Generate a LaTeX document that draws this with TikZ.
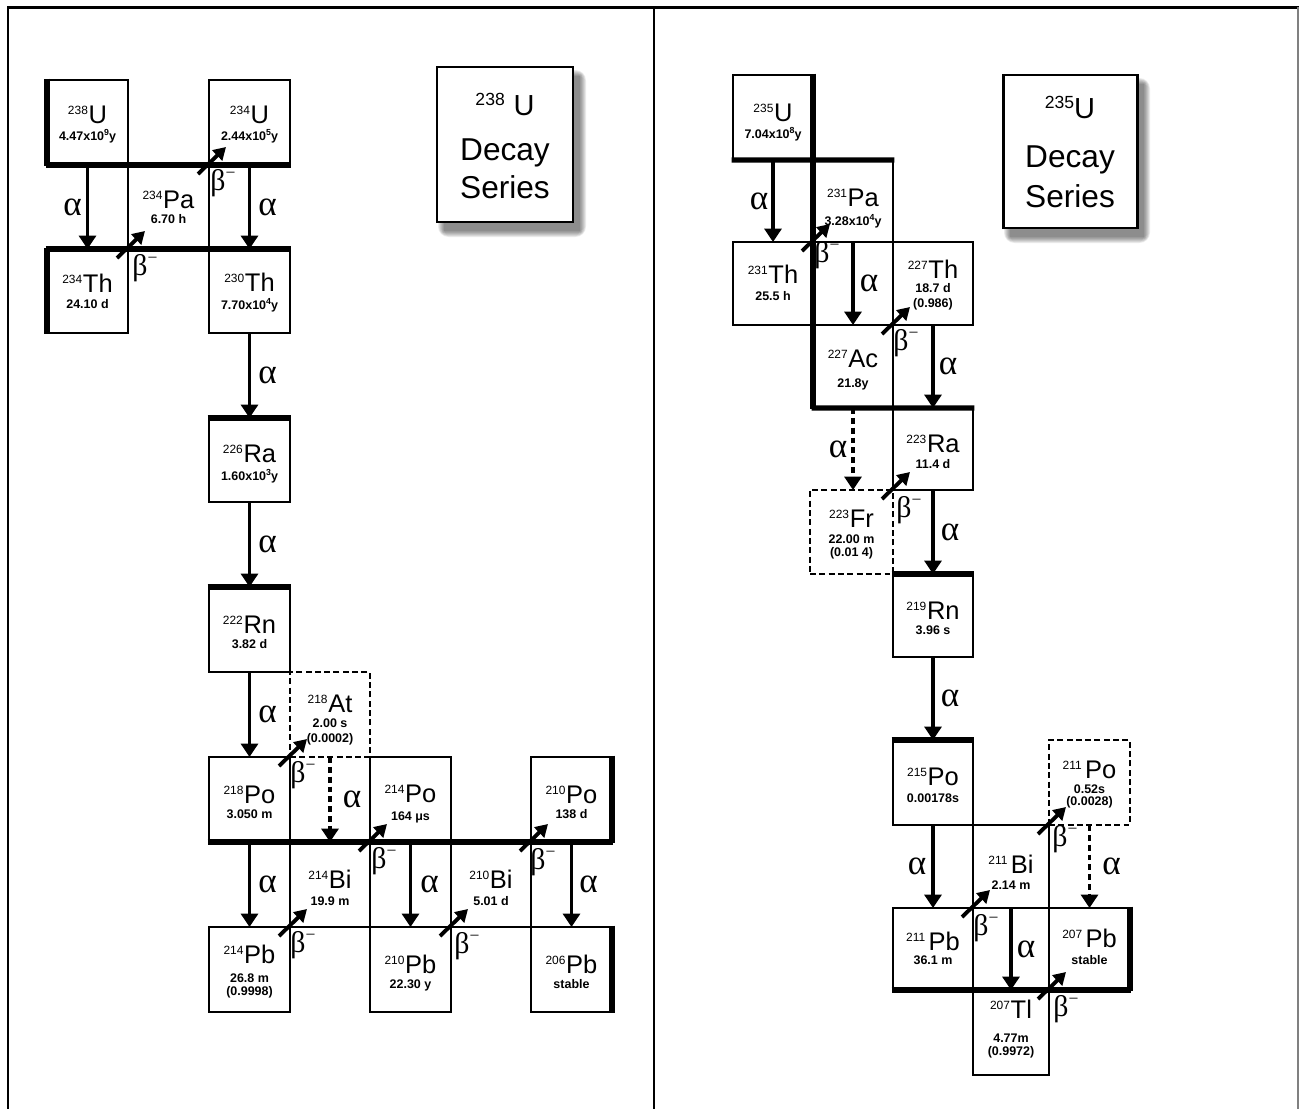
\documentclass[tikz,border=0pt]{standalone}
\usepackage{fontspec}
\setmainfont{Liberation Sans}
\newfontfamily\greekfont{Liberation Serif}
\usetikzlibrary{arrows.meta}

% mass number, element symbol, power of ten, beta-minus
\newcommand\massno[1]{{\fontsize{6.8}{6.8}\selectfont\raisebox{5.1pt}{#1}}\kern0.4pt}
\newcommand\elsym[1]{{\fontsize{14.5}{14.5}\selectfont #1}}
\newcommand\pw[1]{\raisebox{2.8pt}{\fontsize{5}{5}\selectfont #1}}
\newcommand\betam{β\raisebox{0.40em}{\fontsize{10}{10}\selectfont −}}

% a nuclide cell given by its pixel corners
\newcommand\nucbox[6][nbox]{\node[#1, minimum width={(#5-#3)*0.02cm}, minimum height={(#6-#4)*0.02cm}] (#2) at ({(#3+#5)/2},{(#4+#6)/2}) {};}
% symbol line and half-life lines, placed by baseline below the cell top
\newcommand\nucsym[4]{\node[symtxt] (#1s) at ([shift={(0,#2)}]#1.north) {\massno{#3}\elsym{#4}};}
\newcommand\nuctxt[4]{\node[hltxt] (#1#2) at ([shift={(0,#3)}]#1.north) {#4};}

\begin{document}
\begin{tikzpicture}[x=0.02cm,y=-0.02cm,
  nbox/.style={draw, line width=1.6pt, rectangle, inner sep=0pt, outer sep=0pt},
  dbox/.style={nbox, line width=1.3pt, dash pattern=on 3.4pt off 1.9pt},
  heavy/.style={line width=2.9pt, line cap=butt, shorten <=-0.8pt, shorten >=-0.8pt},
  aarr/.style={line width=2.2pt, -{Triangle[width=9.6pt,length=7.6pt]}},
  darr/.style={aarr, dash pattern=on 3.4pt off 2.2pt},
  barr/.style={line width=2.2pt, -{Triangle[width=8pt,length=7pt]}},
  alab/.style={font=\greekfont\fontsize{20}{20}\selectfont, inner sep=0pt},
  blab/.style={font=\greekfont\fontsize{17}{17}\selectfont, inner sep=0pt},
  symtxt/.style={anchor=base, inner sep=0pt},
  hltxt/.style={anchor=base, inner sep=0pt, font=\fontsize{7.1}{7.1}\selectfont\bfseries},
  titlebox/.style={draw, fill=white, line width=1.7pt, rectangle, inner sep=0pt, outer sep=0pt},
  titletxt/.style={anchor=base, inner sep=0pt, font=\fontsize{18}{18}\selectfont},
]
\useasboundingbox (0,0) rectangle (1299,1109);
\fill[white] (0,0) rectangle (1299,1109);

% page frame and divider
\draw[line width=1.4pt] (8,1109) -- (8,7.5);
\draw[line width=1.7pt] (7,7.5) -- (1299,7.5);
\draw[line width=1.6pt] (654,7) -- (654,1109);
\draw[gray, line width=0.7pt] (1298,7) -- (1298,1109);

% ---------------- uranium-238 series ----------------
\nucbox{U238}{47}{80}{128}{165}
\nucbox{U234}{209}{80}{290}{165}
\nucbox{Pa234}{128}{165}{209}{249}
\nucbox{Th234}{47}{249}{128}{333}
\nucbox{Th230}{209}{249}{290}{333}
\nucbox{Ra226}{209}{418}{290}{502}
\nucbox{Rn222}{209}{587}{290}{672}
\nucbox[dbox]{At218}{290}{672}{370}{757}
\nucbox{Po218}{209}{757}{290}{842}
\nucbox{Po214}{370}{757}{451}{842}
\nucbox{Po210}{531}{757}{612}{842}
\nucbox{Bi214}{290}{842}{370}{927}
\nucbox{Bi210}{451}{842}{531}{927}
\nucbox{Pb214}{209}{927}{290}{1012}
\nucbox{Pb210}{370}{927}{451}{1012}
\nucbox{Pb206}{531}{927}{612}{1012}

\draw[heavy] (U238.north west) -- (U238.south west);
\draw[heavy] (Th234.north west) -- (Th234.south west);
\draw[heavy] (U238.south west) -- (U234.south east);
\draw[heavy] (Th234.north west) -- (Th230.north east);
\draw[heavy] (Ra226.north west) -- (Ra226.north east);
\draw[heavy] (Rn222.north west) -- (Rn222.north east);
\draw[heavy] (Po218.south west) -- (Po210.south east);
\draw[heavy] (Po210.north east) -- (Po210.south east);
\draw[heavy] (Pb206.north east) -- (Pb206.south east);

\nucsym{U238}{43}{238}{U}    \nuctxt{U238}{a}{60}{4.47x10\pw{9}y}
\nucsym{U234}{43}{234}{U}    \nuctxt{U234}{a}{60}{2.44x10\pw{5}y}
\nucsym{Pa234}{43}{234}{Pa}  \nuctxt{Pa234}{a}{58}{6.70 h}
\nucsym{Th234}{43}{234}{Th}  \nuctxt{Th234}{a}{59}{24.10 d}
\nucsym{Th230}{42}{230}{Th}  \nuctxt{Th230}{a}{60}{7.70x10\pw{4}y}
\nucsym{Ra226}{44}{226}{Ra}  \nuctxt{Ra226}{a}{62}{1.60x10\pw{3}y}
\nucsym{Rn222}{46}{222}{Rn}  \nuctxt{Rn222}{a}{61}{3.82 d}
\nucsym{At218}{40}{218}{At}  \nuctxt{At218}{a}{55}{2.00 s}  \nuctxt{At218}{b}{70}{(0.0002)}
\nucsym{Po218}{46}{218}{Po}  \nuctxt{Po218}{a}{61}{3.050 m}
\nucsym{Po214}{45}{214}{Po}  \nuctxt{Po214}{a}{63}{164 μs}
\nucsym{Po210}{46}{210}{Po}  \nuctxt{Po210}{a}{61}{138 d}
\nucsym{Bi214}{46}{214}{Bi}  \nuctxt{Bi214}{a}{63}{19.9 m}
\nucsym{Bi210}{46}{210}{Bi}  \nuctxt{Bi210}{a}{63}{5.01 d}
\nucsym{Pb214}{36}{214}{Pb}  \nuctxt{Pb214}{a}{55}{26.8 m}  \nuctxt{Pb214}{b}{68}{(0.9998)}
\nucsym{Pb210}{46}{210}{Pb}  \nuctxt{Pb210}{a}{61}{22.30 y}
\nucsym{Pb206}{46}{206}{Pb}  \nuctxt{Pb206}{a}{61}{stable}

% alpha decays
\draw[aarr] (U238.south) -- (Th234.north) node[alab,midway,xshift=-0.30cm] (aU238) {α};
\draw[aarr] (U234.south) -- (Th230.north) node[alab,midway,xshift=0.36cm] (aU234) {α};
\draw[aarr] (Th230.south) -- (Ra226.north) node[alab,midway,xshift=0.36cm] (aTh230) {α};
\draw[aarr] (Ra226.south) -- (Rn222.north) node[alab,midway,xshift=0.36cm] (aRa226) {α};
\draw[aarr] (Rn222.south) -- (Po218.north) node[alab,midway,xshift=0.36cm] (aRn222) {α};
\draw[darr] (At218.south) -- (Bi214.north) node[alab,midway,xshift=0.44cm] (aAt218) {α};
\draw[aarr] (Po218.south) -- (Pb214.north) node[alab,midway,xshift=0.36cm] (aPo218) {α};
\draw[aarr] (Po214.south) -- (Pb210.north) node[alab,midway,xshift=0.38cm] (aPo214) {α};
\draw[aarr] (Po210.south) -- (Pb206.north) node[alab,midway,xshift=0.34cm] (aPo210) {α};

% beta decays
\draw[barr] ([shift={(-11,9)}]Th234.north east) -- ([shift={(17,-18)}]Pa234.south west);
\node[blab] (bTh234) at ([shift={(17,19)}]Th234.north east) {\betam};
\draw[barr] ([shift={(-11,9)}]Pa234.north east) -- ([shift={(17,-18)}]U234.south west);
\node[blab] (bPa234) at ([shift={(14,18)}]Pa234.north east) {\betam};
\draw[barr] ([shift={(-11,9)}]Po218.north east) -- ([shift={(17,-18)}]At218.south west);
\node[blab] (bPo218) at ([shift={(13,18)}]Po218.north east) {\betam};
\draw[barr] ([shift={(-11,9)}]Bi214.north east) -- ([shift={(17,-18)}]Po214.south west);
\node[blab] (bBi214) at ([shift={(14,19)}]Bi214.north east) {\betam};
\draw[barr] ([shift={(-11,9)}]Bi210.north east) -- ([shift={(17,-18)}]Po210.south west);
\node[blab] (bBi210) at ([shift={(12,20)}]Bi210.north east) {\betam};
\draw[barr] ([shift={(-11,9)}]Pb214.north east) -- ([shift={(17,-18)}]Bi214.south west);
\node[blab] (bPb214) at ([shift={(13,18)}]Pb214.north east) {\betam};
\draw[barr] ([shift={(-11,9)}]Pb210.north east) -- ([shift={(17,-18)}]Bi210.south west);
\node[blab] (bPb210) at ([shift={(16,19)}]Pb210.north east) {\betam};

% title
\foreach \d in {0,...,6}
  \fill[black, opacity=0.08, rounded corners=\d] ({437+7-\d},{67+9-\d}) rectangle ({573+7+\d},{222+9+\d});
\nucbox[titlebox]{T238}{437}{67}{573}{222}
\node[titletxt] (T238a) at ([shift={(0,48)}]T238.north) {{\fontsize{10}{10}\selectfont\raisebox{5.5pt}{238}} {\fontsize{16.5}{16.5}\selectfont U}};
\node[titletxt] (T238b) at ([shift={(0,93)}]T238.north) {Decay};
\node[titletxt] (T238c) at ([shift={(0,131)}]T238.north) {Series};

% ---------------- uranium-235 series ----------------
\nucbox{U235}{733}{75}{813}{160}
\nucbox{Pa231}{813}{160}{893}{242}
\nucbox{Th231}{733}{242}{813}{325}
\nucbox{Th227}{893}{242}{973}{325}
\nucbox{Ac227}{813}{325}{893}{408}
\nucbox{Ra223}{893}{408}{973}{490}
\nucbox[dbox]{Fr223}{810}{490}{893}{574}
\nucbox{Rn219}{893}{574}{973}{657}
\nucbox{Po215}{893}{740}{973}{825}
\nucbox[dbox]{Po211}{1049}{740}{1130}{825}
\nucbox{Bi211}{973}{825}{1049}{908}
\nucbox{Pb211}{893}{908}{973}{990}
\nucbox{Pb207}{1049}{908}{1130}{990}
\nucbox{Tl207}{973}{990}{1049}{1075}

\draw[heavy] (U235.north east) -- (Ac227.south west);
\draw[heavy] (U235.south west) -- (Pa231.north east);
\draw[heavy] (Ac227.south west) -- (Ra223.north east);
\draw[heavy] (Rn219.north west) -- (Rn219.north east);
\draw[heavy] (Po215.north west) -- (Po215.north east);
\draw[heavy] (Pb211.south west) -- (Pb207.south east);
\draw[heavy] (Pb207.north east) -- (Pb207.south east);

\nucsym{U235}{46}{235}{U}    \nuctxt{U235}{a}{63}{7.04x10\pw{8}y}
\nucsym{Pa231}{46}{231}{Pa}  \nuctxt{Pa231}{a}{65}{3.28x10\pw{4}y}
\nucsym{Th231}{41}{231}{Th}  \nuctxt{Th231}{a}{58}{25.5 h}
\nucsym{Th227}{36}{227}{Th}  \nuctxt{Th227}{a}{50}{18.7 d}  \nuctxt{Th227}{b}{65}{(0.986)}
\nucsym{Ac227}{42}{227}{Ac}  \nuctxt{Ac227}{a}{62}{21.8y}
\nucsym{Ra223}{44}{223}{Ra}  \nuctxt{Ra223}{a}{60}{11.4 d}
\nucsym{Fr223}{37}{223}{Fr}  \nuctxt{Fr223}{a}{53}{22.00 m}  \nuctxt{Fr223}{b}{66}{(0.01 4)}
\nucsym{Rn219}{45}{219}{Rn}  \nuctxt{Rn219}{a}{60}{3.96 s}
\nucsym{Po215}{45}{215}{Po}  \nuctxt{Po215}{a}{62}{0.00178s}
\nucsym{Po211}{38}{211\kern1.5pt}{Po}  \nuctxt{Po211}{a}{53}{0.52s}  \nuctxt{Po211}{b}{65}{(0.0028)}
\nucsym{Bi211}{48}{211\kern1.5pt}{Bi}  \nuctxt{Bi211}{a}{64}{2.14 m}
\nucsym{Pb211}{42}{211\kern1.5pt}{Pb}  \nuctxt{Pb211}{a}{56}{36.1 m}
\nucsym{Pb207}{39}{207\kern1.5pt}{Pb}  \nuctxt{Pb207}{a}{56}{stable}
\nucsym{Tl207}{28}{207}{Tl}  \nuctxt{Tl207}{a}{52}{4.77m}  \nuctxt{Tl207}{b}{65}{(0.9972)}

% alpha decays
\draw[aarr] (U235.south) -- (Th231.north) node[alab,midway,xshift=-0.28cm] (aU235) {α};
\draw[aarr] (Pa231.south) -- (Ac227.north) node[alab,midway,xshift=0.32cm] (aPa231) {α};
\draw[aarr] (Th227.south) -- (Ra223.north) node[alab,midway,xshift=0.30cm] (aTh227) {α};
\draw[darr] (Ac227.south) -- (Ac227.south |- Fr223.north) node[alab,midway,xshift=-0.30cm] (aAc227) {α};
\draw[aarr] (Ra223.south) -- (Rn219.north) node[alab,midway,xshift=0.34cm] (aRa223) {α};
\draw[aarr] (Rn219.south) -- (Po215.north) node[alab,midway,xshift=0.34cm] (aRn219) {α};
\draw[aarr] (Po215.south) -- (Pb211.north) node[alab,midway,xshift=-0.32cm] (aPo215) {α};
\draw[darr] (Po211.south) -- (Pb207.north) node[alab,midway,xshift=0.44cm] (aPo211) {α};
\draw[aarr] (Bi211.south) -- (Tl207.north) node[alab,midway,xshift=0.30cm] (aBi211) {α};

% beta decays
\draw[barr] ([shift={(-11,9)}]Th231.north east) -- ([shift={(17,-18)}]Pa231.south west);
\node[blab] (bTh231) at ([shift={(14,13)}]Th231.north east) {\betam};
\draw[barr] ([shift={(-11,9)}]Ac227.north east) -- ([shift={(17,-18)}]Th227.south west);
\node[blab] (bAc227) at ([shift={(13,18)}]Ac227.north east) {\betam};
\draw[barr] ([shift={(-11,9)}]Fr223.north east) -- ([shift={(17,-18)}]Ra223.south west);
\node[blab] (bFr223) at ([shift={(16,20)}]Fr223.north east) {\betam};
\draw[barr] ([shift={(-11,9)}]Bi211.north east) -- ([shift={(17,-18)}]Po211.south west);
\node[blab] (bBi211) at ([shift={(16,14)}]Bi211.north east) {\betam};
\draw[barr] ([shift={(-11,9)}]Pb211.north east) -- ([shift={(17,-18)}]Bi211.south west);
\node[blab] (bPb211) at ([shift={(13,20)}]Pb211.north east) {\betam};
\draw[barr] ([shift={(-11,9)}]Tl207.north east) -- ([shift={(17,-18)}]Pb207.south west);
\node[blab] (bTl207) at ([shift={(17,19)}]Tl207.north east) {\betam};

% title
\foreach \d in {0,...,6}
  \fill[black, opacity=0.08, rounded corners=\d] ({1003+7-\d},{75+9-\d}) rectangle ({1137+7+\d},{228+9+\d});
\nucbox[titlebox]{T235}{1003}{75}{1137}{228}
\node[titletxt] (T235a) at ([shift={(0,43)}]T235.north) {{\fontsize{10}{10}\selectfont\raisebox{5.5pt}{235}}{\fontsize{16.5}{16.5}\selectfont U}};
\node[titletxt] (T235b) at ([shift={(0,92)}]T235.north) {Decay};
\node[titletxt] (T235c) at ([shift={(0,132)}]T235.north) {Series};
\end{tikzpicture}
\end{document}
